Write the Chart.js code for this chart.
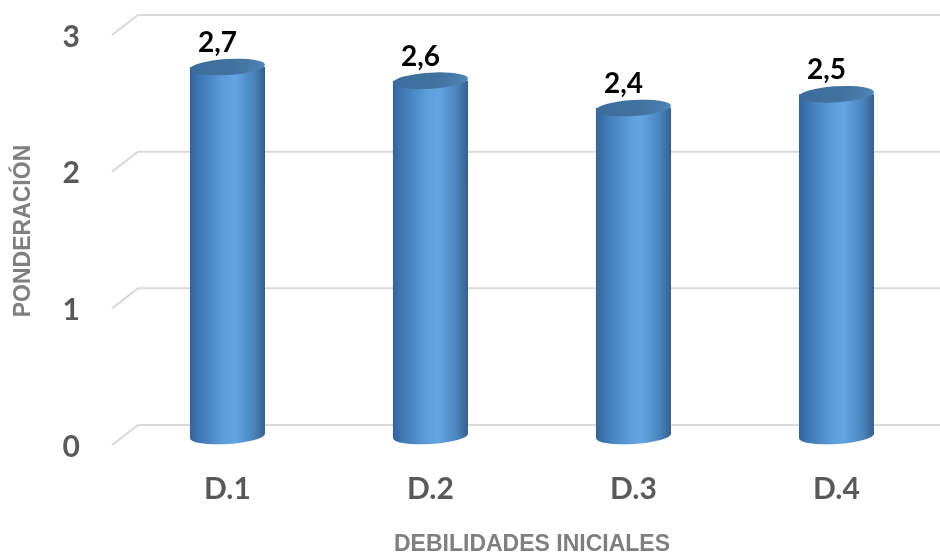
<!DOCTYPE html>
<html>
<head>
<meta charset="utf-8">
<script src="https://cdn.jsdelivr.net/npm/chart.js@4.4.1/dist/chart.umd.min.js"></script>
<style>
  html, body { margin: 0; padding: 0; background: #fff; }
</style>
</head>
<body>
<canvas id="BarChart" width="940" height="553"></canvas>
<script>
var categorias = ["D.1", "D.2", "D.3", "D.4"];
var ponderacion = [2.7, 2.6, 2.4, 2.5];
var ticksY = [0, 1, 2, 3];

// gridlines with a slanted left edge + cylinder bars + value labels
const cylinderPlugin = {
  id: 'cylinder',
  beforeDatasetsDraw(chart) {
    const ctx = chart.ctx;
    const yScale = chart.scales.y;
    ctx.save();
    ctx.strokeStyle = '#d9d9d9';
    ctx.lineWidth = 2;
    ticksY.forEach(function (v) {
      const py = yScale.getPixelForValue(v);
      ctx.beginPath();
      ctx.moveTo(112, py + 9);
      ctx.lineTo(138, py - 11);
      ctx.lineTo(chart.width, py - 11);
      ctx.stroke();
    });
    ctx.restore();
  },
  afterDatasetsDraw(chart) {
    const ctx = chart.ctx;
    const meta = chart.getDatasetMeta(0);
    meta.data.forEach(function (bar, i) {
      const rx = bar.width / 2, ry = 8, tilt = -0.06;
      const left = bar.x - rx, right = bar.x + rx;

      const body = ctx.createLinearGradient(left, 0, right, 0);
      body.addColorStop(0, '#34649a');
      body.addColorStop(0.12, '#3f77b3');
      body.addColorStop(0.45, '#5c9ddb');
      body.addColorStop(0.6, '#63a5e2');
      body.addColorStop(0.85, '#4a84bd');
      body.addColorStop(1, '#355f8c');

      ctx.save();
      ctx.fillStyle = body;
      ctx.beginPath();
      ctx.moveTo(left, bar.y);
      ctx.lineTo(left, bar.base);
      ctx.ellipse(bar.x, bar.base, rx, ry, tilt, Math.PI, 0, true);
      ctx.lineTo(right, bar.y);
      ctx.closePath();
      ctx.fill();

      const top = ctx.createLinearGradient(left, bar.y - ry, right, bar.y + ry);
      top.addColorStop(0, '#3c6c9d');
      top.addColorStop(0.6, '#42739f');
      top.addColorStop(1, '#4f85b9');
      ctx.fillStyle = top;
      ctx.beginPath();
      ctx.ellipse(bar.x, bar.y, rx, ry, tilt, 0, Math.PI * 2);
      ctx.fill();

      ctx.fillStyle = '#000';
      ctx.font = 'bold 28px Lato';
      ctx.textAlign = 'center';
      ctx.textBaseline = 'middle';
      ctx.fillText(String(ponderacion[i]).replace('.', ','), bar.x - 10, bar.y - 24);
      ctx.restore();
    });
  }
};

const configBar = {
  type: 'bar',
  data: {
    labels: categorias,
    datasets: [{
      data: ponderacion,
      backgroundColor: 'rgba(0,0,0,0)',
      borderWidth: 0,
      barPercentage: 0.37,
      categoryPercentage: 1
    }]
  },
  options: {
    responsive: false,
    animation: false,
    layout: { padding: { top: 26, right: 2, left: 0, bottom: 0 } },
    plugins: {
      legend: { display: false },
      tooltip: { enabled: false }
    },
    scales: {
      x: {
        grid: { display: false, drawTicks: false, tickLength: 0 },
        border: { display: false },
        ticks: {
          color: '#595959',
          padding: 35,
          font: { family: 'Lato', weight: 'bold', size: 30 }
        },
        title: {
          display: true,
          text: 'DEBILIDADES INICIALES',
          color: '#7f7f7f',
          padding: 0,
          font: { family: 'Liberation Sans', weight: 'bold', size: 23, lineHeight: 0.7 }
        },
        afterFit: function (s) { s.height = 117; }
      },
      y: {
        min: 0,
        max: 3,
        grid: { display: false, drawTicks: false, tickLength: 0 },
        border: { display: false },
        ticks: {
          stepSize: 1,
          color: '#595959',
          padding: 46,
          labelOffset: 11,
          font: { family: 'Lato', weight: 'bold', size: 30 }
        },
        title: {
          display: true,
          text: 'PONDERACIÓN',
          color: '#7f7f7f',
          padding: { top: 16, bottom: 0 },
          font: { family: 'Liberation Sans', weight: 'bold', size: 23, lineHeight: 0.7 }
        },
        afterFit: function (s) {
          s.width = 126;
          // the wide tick padding should not push the plot area down
          s.paddingTop = 18;
          s.paddingBottom = 18;
        }
      }
    }
  },
  plugins: [cylinderPlugin]
};

new Chart(document.getElementById('BarChart'), configBar);
</script>
</body>
</html>
